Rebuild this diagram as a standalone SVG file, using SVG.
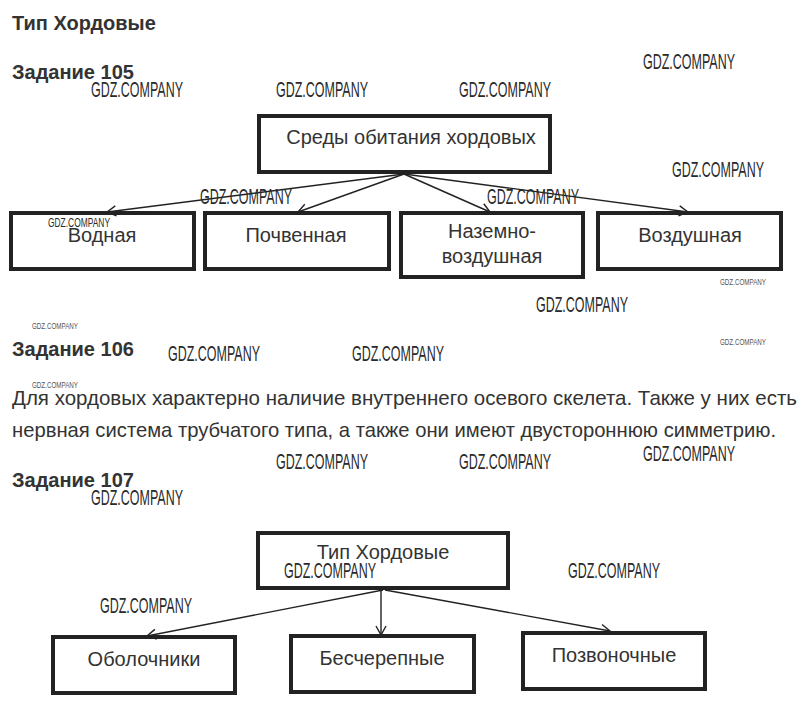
<svg xmlns="http://www.w3.org/2000/svg" width="805" height="706" viewBox="0 0 805 706">
<style>
.h{font-family:"Liberation Sans",Arial,sans-serif;font-weight:bold;font-size:20px;fill:#333}
.t{font-family:"Liberation Sans",Arial,sans-serif;font-size:20px;fill:#333}
.p{font-family:"Liberation Sans",Arial,sans-serif;font-size:20.3px;fill:#333}
.c{text-anchor:middle}
.box{fill:none;stroke:#222;stroke-width:4}
.ln{stroke:#222;stroke-width:1.4;fill:none}
.wm{font-family:"Liberation Sans",Arial,sans-serif;font-size:22px;fill:#2a2a2a}
.ws{font-family:"Liberation Sans",Arial,sans-serif;font-size:12px;fill:#2a2a2a}
.wt{font-family:"Liberation Sans",Arial,sans-serif;font-size:8.5px;fill:#555}
</style>
<defs>
<marker id="ah" markerWidth="12" markerHeight="12" refX="10" refY="6" orient="auto" markerUnits="userSpaceOnUse">
<path d="M1,1 L10,6 L1,11" fill="none" stroke="#222" stroke-width="1.4"/>
</marker>
</defs>
<rect width="805" height="706" fill="#fff"/>

<text class="h" x="12" y="30">Тип Хордовые</text>
<text class="h" x="12" y="79">Задание 105</text>

<g id="connectors1">
<line class="ln" x1="404" y1="174" x2="107" y2="212" marker-end="url(#ah)"/>
<line class="ln" x1="404" y1="174" x2="298" y2="212" marker-end="url(#ah)"/>
<line class="ln" x1="404" y1="174" x2="490" y2="212" marker-end="url(#ah)"/>
<line class="ln" x1="404" y1="174" x2="688" y2="212" marker-end="url(#ah)"/>
</g>

<g id="n-sredy"><rect class="box" x="259" y="116" width="291" height="56"/><text class="t c" x="411" y="144">Среды обитания хордовых</text></g>
<g id="n-vodnaya"><rect class="box" x="11" y="213" width="183" height="56"/><text class="t c" x="102" y="242">Водная</text></g>
<g id="n-pochvennaya"><rect class="box" x="205" y="213" width="184" height="56"/><text class="t c" x="296" y="242">Почвенная</text></g>
<g id="n-nazemno"><rect class="box" x="401" y="213" width="182" height="64"/><text class="t c" x="492" y="238">Наземно-</text><text class="t c" x="492" y="263">воздушная</text></g>
<g id="n-vozdushnaya"><rect class="box" x="598" y="213" width="183" height="56"/><text class="t c" x="690" y="242">Воздушная</text></g>

<text class="h" x="12" y="356">Задание 106</text>
<text class="p" x="12" y="405" textLength="785" lengthAdjust="spacingAndGlyphs">Для хордовых характерно наличие внутреннего осевого скелета. Также у них есть</text>
<text class="p" x="12" y="437" textLength="764" lengthAdjust="spacingAndGlyphs">нервная система трубчатого типа, а также они имеют двустороннюю симметрию.</text>
<text class="h" x="12" y="487">Задание 107</text>

<g id="connectors2">
<line class="ln" x1="383" y1="590" x2="147" y2="636" marker-end="url(#ah)"/>
<line class="ln" x1="381" y1="590" x2="381" y2="635" marker-end="url(#ah)"/>
<line class="ln" x1="385" y1="590" x2="610" y2="631" marker-end="url(#ah)"/>
</g>

<g id="n-tip"><rect class="box" x="258" y="533" width="250" height="55"/><text class="t c" x="383" y="559">Тип Хордовые</text></g>
<g id="n-obolochniki"><rect class="box" x="53" y="637" width="182" height="56"/><text class="t c" x="144" y="666">Оболочники</text></g>
<g id="n-bescherepnye"><rect class="box" x="291" y="636" width="183" height="56"/><text class="t c" x="382" y="665">Бесчерепные</text></g>
<g id="n-pozvonochnye"><rect class="box" x="523" y="633" width="182" height="56"/><text class="t c" x="614" y="662">Позвоночные</text></g>

<g id="watermarks">
<text class="wm" x="643" y="69" textLength="92" lengthAdjust="spacingAndGlyphs">GDZ.COMPANY</text>
<text class="wm" x="91" y="97" textLength="92" lengthAdjust="spacingAndGlyphs">GDZ.COMPANY</text>
<text class="wm" x="276" y="97" textLength="92" lengthAdjust="spacingAndGlyphs">GDZ.COMPANY</text>
<text class="wm" x="459" y="97" textLength="92" lengthAdjust="spacingAndGlyphs">GDZ.COMPANY</text>
<text class="wm" x="672" y="177" textLength="92" lengthAdjust="spacingAndGlyphs">GDZ.COMPANY</text>
<text class="wm" x="200" y="204" textLength="92" lengthAdjust="spacingAndGlyphs">GDZ.COMPANY</text>
<text class="wm" x="487" y="204" textLength="92" lengthAdjust="spacingAndGlyphs">GDZ.COMPANY</text>
<text class="ws" x="48" y="227" textLength="62" lengthAdjust="spacingAndGlyphs">GDZ.COMPANY</text>
<text class="wt" x="720" y="285" textLength="46" lengthAdjust="spacingAndGlyphs">GDZ.COMPANY</text>
<text class="wm" x="536" y="312" textLength="92" lengthAdjust="spacingAndGlyphs">GDZ.COMPANY</text>
<text class="wt" x="32" y="329" textLength="46" lengthAdjust="spacingAndGlyphs">GDZ.COMPANY</text>
<text class="wt" x="720" y="345" textLength="46" lengthAdjust="spacingAndGlyphs">GDZ.COMPANY</text>
<text class="wm" x="168" y="361" textLength="92" lengthAdjust="spacingAndGlyphs">GDZ.COMPANY</text>
<text class="wm" x="352" y="361" textLength="92" lengthAdjust="spacingAndGlyphs">GDZ.COMPANY</text>
<text class="wt" x="32" y="388" textLength="46" lengthAdjust="spacingAndGlyphs">GDZ.COMPANY</text>
<text class="wm" x="643" y="461" textLength="92" lengthAdjust="spacingAndGlyphs">GDZ.COMPANY</text>
<text class="wm" x="276" y="469" textLength="92" lengthAdjust="spacingAndGlyphs">GDZ.COMPANY</text>
<text class="wm" x="459" y="469" textLength="92" lengthAdjust="spacingAndGlyphs">GDZ.COMPANY</text>
<text class="wm" x="91" y="505" textLength="92" lengthAdjust="spacingAndGlyphs">GDZ.COMPANY</text>
<text class="wm" x="284" y="578" textLength="92" lengthAdjust="spacingAndGlyphs">GDZ.COMPANY</text>
<text class="wm" x="568" y="578" textLength="92" lengthAdjust="spacingAndGlyphs">GDZ.COMPANY</text>
<text class="wm" x="100" y="613" textLength="92" lengthAdjust="spacingAndGlyphs">GDZ.COMPANY</text>
</g>
</svg>
